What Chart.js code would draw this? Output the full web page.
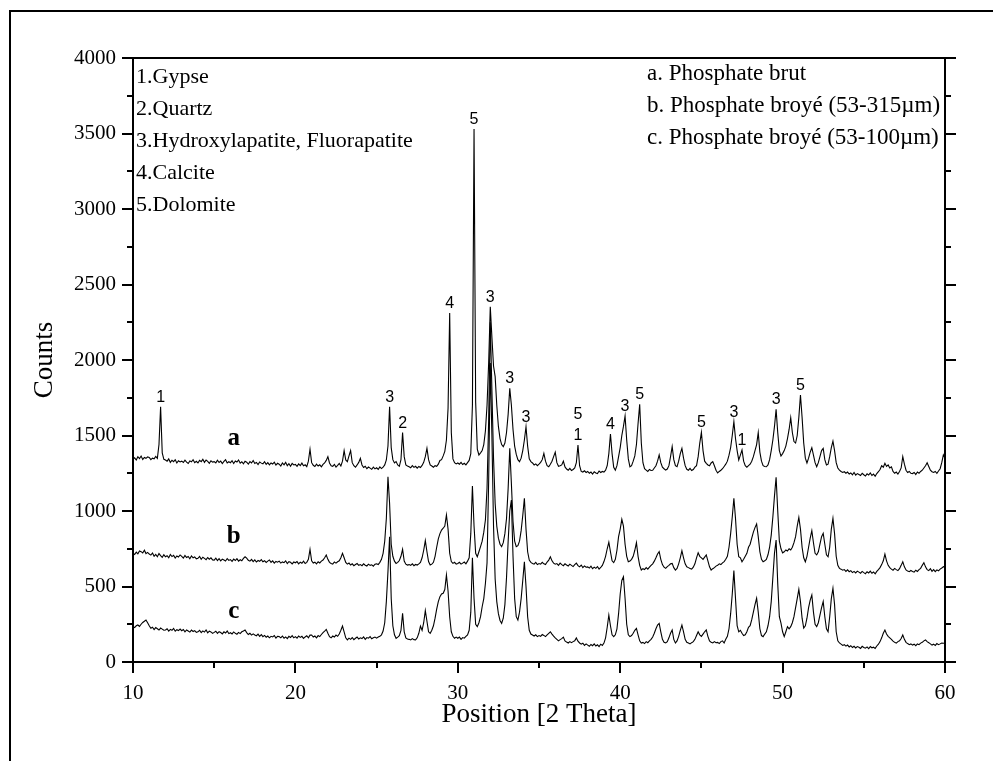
<!DOCTYPE html>
<html>
<head>
<meta charset="utf-8">
<script src="https://cdn.jsdelivr.net/npm/chart.js@4.4.0/dist/chart.umd.min.js"></script>
<style>
  html, body { margin: 0; padding: 0; background: #fff; }
</style>
</head>
<body>
<canvas id="xrd" width="993" height="761"></canvas>
<script>
// sampling of the scan: 10.0 to 60.0 deg 2-theta, every 0.1 deg
const thetaStart = 10;
const thetaStep = 0.1;

// a. Phosphate brut (one row per degree)
const countsA = [
  1344, 1352, 1338, 1360, 1347, 1364, 1341, 1355, 1349, 1358,
  1355, 1340, 1350, 1346, 1362, 1349, 1440, 1690, 1385, 1342,
  1338, 1330, 1345, 1322, 1336, 1327, 1340, 1318, 1333, 1325,
  1330, 1321, 1337, 1324, 1315, 1332, 1326, 1340, 1320, 1329,
  1318, 1335, 1327, 1342, 1322, 1338, 1329, 1316, 1333, 1324,
  1327, 1319, 1336, 1321, 1330, 1314, 1328, 1340, 1318, 1326,
  1320, 1333, 1315, 1331, 1324, 1338, 1317, 1326, 1312, 1329,
  1323, 1310, 1327, 1318, 1334, 1315, 1322, 1308, 1325, 1317,
  1312, 1326, 1309, 1320, 1305, 1318, 1311, 1323, 1304, 1316,
  1310, 1298, 1318, 1306, 1322, 1300, 1313, 1296, 1315, 1305,
  1308, 1296, 1312, 1301, 1317, 1299, 1306, 1294, 1330, 1409,
  1320, 1303, 1295, 1310, 1298, 1306, 1292, 1309, 1318, 1335,
  1360, 1318, 1300, 1296, 1309, 1291, 1302, 1315, 1298, 1330,
  1400, 1338, 1327, 1365, 1400, 1320, 1300, 1290, 1305, 1322,
  1349, 1305, 1288, 1296, 1280, 1291, 1284, 1276, 1290, 1279,
  1286, 1275, 1292, 1281, 1290, 1305, 1338, 1430, 1691, 1420,
  1340, 1318, 1327, 1305, 1296, 1340, 1519, 1360, 1305, 1298,
  1293, 1286, 1300, 1289, 1296, 1284, 1295, 1288, 1302, 1322,
  1360, 1415, 1340, 1305, 1298, 1290, 1300, 1296, 1310, 1335,
  1340, 1365, 1395, 1470, 1680, 2311, 1520, 1345, 1320, 1312,
  1318, 1310, 1322, 1308, 1316, 1305, 1320, 1335, 1380, 1700,
  3530, 1720, 1410, 1371, 1385, 1400, 1440, 1530, 1700, 1980,
  2353, 2150, 1960, 1890, 1700, 1560, 1480, 1440, 1426, 1450,
  1520, 1640, 1812, 1700, 1540, 1430, 1375, 1340, 1327, 1350,
  1400, 1470, 1558, 1430, 1345, 1327, 1318, 1305, 1312, 1300,
  1310, 1322, 1340, 1382, 1330, 1300, 1293, 1310, 1330, 1360,
  1390, 1320, 1296, 1300, 1305, 1330, 1292, 1278, 1270, 1282,
  1268, 1275, 1285, 1320, 1437, 1300, 1262, 1258, 1266, 1255,
  1262, 1250, 1258, 1245, 1260, 1252, 1248, 1265, 1255, 1262,
  1258, 1270, 1300, 1380, 1510, 1380, 1290, 1271, 1300, 1360,
  1420, 1500, 1560, 1629, 1470, 1345, 1293, 1300, 1330, 1365,
  1440, 1580, 1706, 1450, 1320, 1280, 1271, 1262, 1275, 1268,
  1270, 1285, 1300, 1330, 1371, 1320, 1290, 1280, 1271, 1278,
  1300, 1360, 1426, 1340, 1300, 1293, 1330, 1380, 1415, 1350,
  1300, 1276, 1270, 1282, 1268, 1275, 1290, 1300, 1360, 1450,
  1521, 1400, 1330, 1316, 1305, 1300, 1318, 1327, 1300, 1270,
  1252, 1262, 1270, 1280, 1295, 1310, 1330, 1370, 1420, 1500,
  1591, 1480, 1400, 1338, 1370, 1404, 1330, 1300, 1290, 1300,
  1310, 1330, 1360, 1400, 1440, 1519, 1390, 1330, 1300, 1295,
  1293, 1305, 1340, 1400, 1470, 1560, 1673, 1520, 1400, 1364,
  1380, 1400, 1430, 1480, 1540, 1618, 1520, 1460, 1450, 1500,
  1620, 1768, 1620, 1450, 1350, 1318, 1350, 1390, 1419, 1370,
  1320, 1293, 1320, 1360, 1400, 1415, 1340, 1305, 1310, 1360,
  1420, 1463, 1400, 1320, 1285, 1271, 1262, 1255, 1260, 1250,
  1258, 1245, 1252, 1240, 1255, 1238, 1248, 1242, 1235, 1250,
  1240, 1232, 1246, 1238, 1252, 1235, 1244, 1230, 1248, 1260,
  1275, 1300, 1290, 1316, 1295, 1305, 1285, 1292, 1262, 1250,
  1258, 1245, 1262, 1285, 1360, 1310, 1270, 1255, 1262, 1250,
  1248, 1255, 1242, 1258, 1250, 1262, 1270, 1285, 1300, 1320,
  1295, 1270, 1260, 1255, 1262, 1250, 1265, 1280, 1320, 1371,
  1350
];

// b. Phosphate broyé (53-315µm)
const countsB = [
  720, 712, 728, 716, 735, 731, 722, 740, 718, 726,
  715, 708, 722, 700, 712, 697, 718, 705, 693, 710,
  697, 704, 690, 712, 698, 706, 688, 702, 695, 709,
  700, 688, 705, 692, 699, 684, 702, 690, 696, 683,
  687, 699, 680, 694, 686, 678, 692, 681, 690, 676,
  675, 688, 672, 684, 670, 681, 676, 669, 685, 673,
  678, 666, 681, 672, 684, 668, 677, 670, 686, 697,
  688, 674, 668, 680, 665, 676, 662, 672, 667, 678,
  664, 671, 659, 668, 676, 660, 670, 655, 666, 661,
  668, 655, 663, 658, 670, 652, 664, 660, 650, 662,
  657, 665, 650, 661, 654, 668, 652, 660, 680, 746,
  670, 655, 661, 650, 664, 656, 668, 675, 690, 709,
  680, 660, 652, 648, 662, 655, 664, 670, 690, 720,
  690, 660, 648, 655, 642, 650, 638, 646, 652, 640,
  645, 638, 650, 641, 636, 648, 640, 644, 635, 648,
  650, 645, 660, 680, 720, 800, 950, 1227, 1050, 780,
  700, 668, 653, 660, 672, 700, 746, 668, 648, 642,
  645, 640, 650, 638, 646, 642, 650, 660, 690, 740,
  804, 730, 665, 642, 648, 660, 700, 760, 815, 850,
  874, 886, 900, 974, 880, 720, 665, 653, 660, 648,
  653, 660, 648, 655, 662, 650, 668, 690, 850, 1165,
  900, 720, 697, 730, 764, 800, 860, 940, 1150, 1600,
  2250, 1800, 1350, 1050, 900, 820, 780, 764, 790, 850,
  950, 1150, 1415, 1180, 930, 800, 764, 770, 800, 870,
  970, 1084, 880, 730, 675, 660, 653, 648, 660, 645,
  652, 648, 660, 650, 645, 662, 675, 697, 670, 655,
  648, 652, 640, 655, 645, 638, 650, 642, 636, 648,
  640, 632, 645, 655, 638, 630, 642, 625, 636, 628,
  630, 622, 635, 618, 628, 620, 632, 615, 626, 640,
  665, 700, 750, 793, 730, 670, 658, 680, 740, 830,
  880, 945, 900, 780, 700, 664, 668, 680, 700, 740,
  790, 700, 640, 609, 618, 612, 625, 615, 628, 640,
  650, 668, 690, 715, 731, 680, 645, 628, 620, 632,
  640, 650, 653, 625, 609, 620, 650, 690, 737, 690,
  650, 630, 625, 620, 615, 628, 650, 690, 724, 700,
  690, 680, 695, 709, 670, 630, 609, 618, 625, 635,
  640, 650, 645, 656, 665, 680, 700, 760, 850, 960,
  1084, 950, 780, 697, 690, 664, 680, 700, 720, 760,
  780, 820, 860, 890, 914, 830, 730, 680, 664, 670,
  680, 710, 760, 840, 960, 1100, 1223, 1000, 800, 750,
  722, 730, 742, 735, 750, 742, 760, 790, 830, 900,
  958, 880, 760, 690, 664, 700, 760, 820, 870, 790,
  720, 709, 730, 780, 830, 852, 780, 710, 697, 760,
  880, 951, 850, 700, 640, 620, 615, 608, 612, 600,
  610, 598, 605, 592, 600, 590, 602, 595, 588, 600,
  592, 585, 598, 590, 602, 588, 596, 584, 600, 612,
  625, 645, 670, 715, 670, 640, 625, 615, 608, 620,
  612, 605, 618, 640, 664, 630, 610, 602, 598, 606,
  600, 595, 608, 600, 612, 620, 640, 658, 630, 612,
  605, 618, 600, 612, 598, 610, 604, 615, 622, 631,
  628
];

// c. Phosphate broyé (53-100µm)
const countsC = [
  234, 228, 240, 245, 236, 250, 262, 270, 278, 260,
  240, 223, 230, 215, 228, 220, 212, 225, 218, 210,
  212, 220, 205, 216, 210, 222, 204, 214, 208, 218,
  207, 215, 200, 212, 205, 198, 211, 202, 208, 196,
  200, 210, 195, 206, 198, 212, 193, 204, 199, 190,
  196, 204, 190, 201, 195, 186, 200, 192, 205, 188,
  194, 186, 199, 190, 184, 196, 188, 200, 205, 212,
  195, 182, 190, 178, 186, 179, 174, 185, 170, 181,
  168, 176, 164, 172, 160, 170, 166, 175, 158, 170,
  168, 160, 172, 158, 166, 155, 170, 162, 175, 160,
  168, 158, 172, 163, 170, 156, 166, 174, 160, 178,
  179, 165, 172, 160, 175, 168, 182, 195, 205, 216,
  190, 168, 160, 172, 165, 178, 170, 185, 210, 238,
  200, 160, 146, 158, 150, 162, 148, 157, 165, 152,
  160, 155, 166, 150, 162, 158, 168, 154, 160, 165,
  158, 165, 170, 180, 205, 260, 400, 600, 830, 420,
  240, 180, 157, 165, 175, 210, 322, 200, 160, 152,
  150, 146, 155, 148, 146, 160, 190, 238, 210, 260,
  340, 270, 200, 190, 210, 240, 290, 350, 400, 433,
  450, 455, 480, 576, 470, 300, 200, 170, 157, 165,
  157, 165, 150, 162, 158, 170, 180, 210, 330, 690,
  420, 250, 234, 260, 300, 366, 420, 520, 656, 1200,
  1980, 1500, 900, 550, 400, 320, 275, 256, 290, 380,
  560, 800, 1000, 1073, 700, 420, 300, 278, 330, 420,
  540, 664, 500, 300, 210, 185, 179, 172, 180, 168,
  175, 170, 182, 176, 168, 180, 190, 200, 185, 172,
  160, 150, 140, 148, 155, 165, 140, 132, 126, 135,
  128, 135, 140, 159, 138, 126, 118, 124, 110, 120,
  112, 104, 116, 108, 120, 106, 114, 102, 118, 110,
  125, 160, 230, 311, 240, 180, 168, 180, 220, 320,
  450, 540, 565, 420, 250, 180, 168, 175, 190, 210,
  223, 180, 140, 126, 130, 122, 135, 128, 140, 150,
  165, 190, 220, 245, 256, 200, 150, 130, 126, 135,
  160, 190, 212, 150, 126, 140, 170, 210, 245, 200,
  150, 130, 126, 120, 128, 135, 150, 175, 200, 180,
  170, 185, 200, 212, 170, 140, 130, 126, 135, 128,
  130, 122, 135, 140, 126, 150, 170, 220, 320, 450,
  605, 420, 240, 200, 210, 190, 175, 180, 200, 230,
  240, 280, 330, 380, 422, 330, 220, 175, 168, 185,
  200, 240, 300, 400, 560, 720, 808, 520, 300, 258,
  200, 168, 200, 234, 220, 234, 260, 300, 360, 420,
  481, 400, 290, 225, 240, 290, 360, 410, 444, 330,
  250, 234, 260, 310, 360, 400, 300, 220, 201, 300,
  420, 488, 380, 200, 140, 126, 118, 110, 115, 105,
  112, 100, 108, 96, 104, 93, 102, 98, 90, 104,
  96, 92, 100, 88, 102, 94, 98, 90, 106, 118,
  135, 160, 190, 212, 185, 170, 160, 150, 138, 130,
  125, 135, 140, 155, 179, 150, 130, 122, 115, 120,
  112, 118, 108, 120, 115, 125, 130, 140, 146, 135,
  128, 120, 112, 118, 110, 122, 115, 120, 126, 124,
  126
];

// phase marks above the peaks of curve a
const peakAngles = [11.7, 25.8, 26.6, 29.5, 31.0, 32.0, 33.2, 34.2, 37.4, 39.4, 40.3, 41.2, 45.0, 47.0, 47.5, 49.6, 51.1];
const peakCounts = [1690, 1691, 1519, 2311, 3530, 2353, 1812, 1558, 1437, 1510, 1629, 1706, 1521, 1591, 1404, 1673, 1768];
const peakPhases = ['1', '3', '2', '4', '5', '3', '3', '3', '5/1', '4', '3', '5', '5', '3', '1', '3', '5'];

const phaseNames = ['1.Gypse', '2.Quartz', '3.Hydroxylapatite, Fluorapatite', '4.Calcite', '5.Dolomite'];
const sampleNames = ['a. Phosphate brut', 'b. Phosphate broyé (53-315µm)', 'c. Phosphate broyé (53-100µm)'];
const curveTags = ['a', 'b', 'c'];
const curveTagAngle = [16.2, 16.2, 16.2];
const curveTagCounts = [1483, 828, 331];

const xTicks = [10, 20, 30, 40, 50, 60];

const serif = '"Liberation Serif", "Times New Roman", serif';
const sans = '"Liberation Sans", Arial, sans-serif';

function toPoints(counts) {
  return counts.map((c, i) => ({ x: +(thetaStart + i * thetaStep).toFixed(1), y: c }));
}

const decor = {
  id: 'decor',
  afterDraw(chart) {
    const { ctx, chartArea: a, scales } = chart;
    const x = scales.x, y = scales.y;
    ctx.save();
    ctx.strokeStyle = '#000';
    ctx.fillStyle = '#000';

    // outer frame (left and top edges)
    ctx.lineWidth = 2;
    ctx.beginPath();
    ctx.moveTo(10, 761);
    ctx.lineTo(10, 11);
    ctx.lineTo(993, 11);
    ctx.stroke();

    // plot box
    ctx.strokeRect(a.left, a.top, a.right - a.left, a.bottom - a.top);

    // tick marks, outward
    ctx.beginPath();
    for (let v = 0; v <= 4000; v += 250) {
      const py = Math.round(y.getPixelForValue(v));
      const len = v % 500 === 0 ? 11 : 6;
      ctx.moveTo(a.left - len, py); ctx.lineTo(a.left, py);
      ctx.moveTo(a.right, py); ctx.lineTo(a.right + len, py);
    }
    for (let v = 10; v <= 60; v += 5) {
      const px = Math.round(x.getPixelForValue(v));
      const len = v % 10 === 0 ? 11 : 6;
      ctx.moveTo(px, a.bottom); ctx.lineTo(px, a.bottom + len);
    }
    ctx.stroke();

    // phase numbers over peaks
    ctx.font = '16px ' + sans;
    ctx.textAlign = 'center';
    ctx.textBaseline = 'alphabetic';
    peakAngles.forEach((t, i) => {
      const px = x.getPixelForValue(t);
      const py = y.getPixelForValue(peakCounts[i]);
      const lines = peakPhases[i].split('/').reverse();
      lines.forEach((s, k) => ctx.fillText(s, px, py - 5 - k * 21));
    });

    // curve tags
    ctx.font = 'bold 25px ' + serif;
    ctx.textBaseline = 'middle';
    curveTags.forEach((s, i) => {
      ctx.fillText(s, x.getPixelForValue(curveTagAngle[i]), y.getPixelForValue(curveTagCounts[i]));
    });

    // phase key, top left
    ctx.textAlign = 'left';
    ctx.font = '22px ' + serif;
    phaseNames.forEach((s, i) => ctx.fillText(s, a.left + 3, a.top + 19 + i * 32));

    // sample key, top right
    ctx.font = '23px ' + serif;
    sampleNames.forEach((s, i) => ctx.fillText(s, 647, a.top + 16 + i * 32));

    ctx.restore();
  }
};

new Chart(document.getElementById('xrd'), {
  type: 'line',
  data: {
    datasets: [
      { label: 'a', data: toPoints(countsA) },
      { label: 'b', data: toPoints(countsB) },
      { label: 'c', data: toPoints(countsC) }
    ].map(d => Object.assign(d, {
      borderColor: '#000',
      borderWidth: 1.1,
      pointRadius: 0,
      tension: 0,
      fill: false
    }))
  },
  options: {
    responsive: false,
    animation: false,
    devicePixelRatio: 1,
    layout: { padding: { top: 58, right: 48, left: 0, bottom: 0 } },
    plugins: { legend: { display: false }, tooltip: { enabled: false } },
    scales: {
      x: {
        type: 'linear',
        min: 10,
        max: 60,
        afterBuildTicks: s => { s.ticks = xTicks.map(v => ({ value: v })); },
        afterFit: s => { s.height = 99; },
        grid: { display: false, drawTicks: false },
        border: { display: false },
        ticks: { color: '#000', font: { family: serif, size: 21 }, padding: 19, callback: v => String(v) },
        title: {
          display: true,
          text: 'Position [2 Theta]',
          color: '#000',
          font: { family: serif, size: 27 },
          padding: { top: 0, bottom: 30 }
        }
      },
      y: {
        min: 0,
        max: 4000,
        afterFit: s => { s.width = 133; },
        grid: { display: false, drawTicks: false },
        border: { display: false },
        ticks: { stepSize: 500, color: '#000', font: { family: serif, size: 21 }, padding: 17, callback: v => String(v) },
        title: {
          display: true,
          text: 'Counts',
          color: '#000',
          font: { family: serif, size: 27 },
          padding: { top: 29, bottom: 0 }
        }
      }
    }
  },
  plugins: [decor]
});
</script>
</body>
</html>
